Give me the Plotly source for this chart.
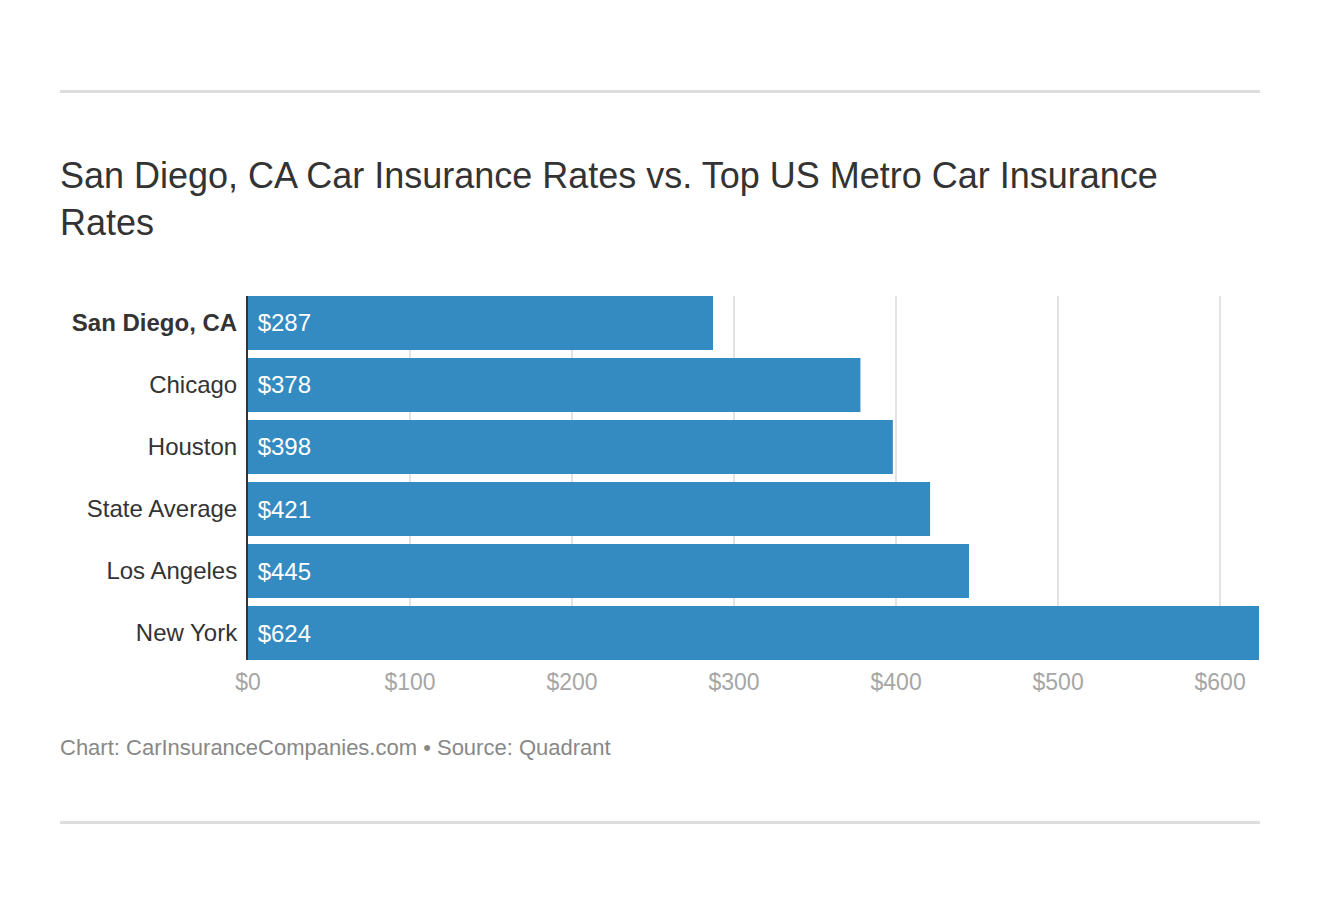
import plotly.graph_objects as go

# data
cities = ["San Diego, CA", "Chicago", "Houston", "State Average", "Los Angeles", "New York"]
rates = [287, 378, 398, 421, 445, 624]
highlight = "San Diego, CA"
x_ticks = [0, 100, 200, 300, 400, 500, 600]

W, H = 1320, 902
OFF = 8  # page body margin in the screenshot
# plot area in screenshot pixels: 248..1259 by 296..660
L, R, T, B = 248 - OFF, W - (1259 - OFF), 296 - OFF, H - (660 - OFF)
BAR_BLUE = "#338bc1"
GAP = 0.13


def px_x(px):
    """Screenshot pixel column -> paper x."""
    return (px - OFF - L) / (W - L - R)


def px_y(py):
    """Screenshot pixel row -> paper y."""
    return (H - B - (py - OFF)) / (H - T - B)


tick_text = [f"<b>{c}</b>" if c == highlight else c for c in cities]

fig = go.Figure()
fig.add_trace(
    go.Bar(
        x=rates,
        y=cities,
        orientation="h",
        marker=dict(color=BAR_BLUE, line=dict(width=0)),
        text=[f"\u00a0${v}" for v in rates],
        textposition="inside",
        insidetextanchor="start",
        textfont=dict(color="white", size=24),
        hoverinfo="skip",
        showlegend=False,
    )
)

half = (1 - GAP) / 2
fig.update_yaxes(
    categoryorder="array",
    categoryarray=cities,
    tickvals=cities,
    ticktext=tick_text,
    range=[len(cities) - 1 + half, -half],
    showline=True,
    linecolor="#333333",
    linewidth=2,
    showgrid=False,
    ticks="",
    ticklabelstandoff=4,
    tickfont=dict(size=24, color="#333333"),
)
fig.update_xaxes(
    range=[0, max(rates)],
    tickvals=x_ticks,
    ticktext=[f"${v}" for v in x_ticks],
    showgrid=True,
    gridcolor="#e3e3e3",
    gridwidth=2,
    zeroline=False,
    showline=False,
    ticks="",
    ticklabelstandoff=6,
    tickfont=dict(size=23, color="#a6a6a6"),
)

fig.update_layout(
    width=W,
    height=H,
    margin=dict(l=L, r=R, t=T, b=B, pad=0),
    paper_bgcolor="white",
    plot_bgcolor="white",
    bargap=GAP,
    font=dict(family="Liberation Sans, Arial, sans-serif"),
    title=dict(
        text="San Diego, CA Car Insurance Rates vs. Top US Metro Car Insurance<br>Rates",
        x=(60 - OFF) / W,
        xanchor="left",
        xref="container",
        yref="container",
        y=1 - 180 / H,
        yanchor="top",
        font=dict(size=36, color="#333333"),
    ),
    annotations=[
        dict(
            text="Chart: CarInsuranceCompanies.com \u2022 Source: Quadrant",
            xref="paper",
            yref="paper",
            x=px_x(60),
            y=px_y(747),
            xanchor="left",
            yanchor="middle",
            xshift=-2,
            showarrow=False,
            font=dict(size=22, color="#888888"),
        )
    ],
    shapes=[
        dict(
            type="line",
            xref="paper",
            yref="paper",
            x0=px_x(60),
            x1=px_x(1260),
            y0=px_y(yy),
            y1=px_y(yy),
            line=dict(color="#dddddd", width=3),
        )
        for yy in (91.5, 822.5)
    ],
)

fig.write_html("out.html")
